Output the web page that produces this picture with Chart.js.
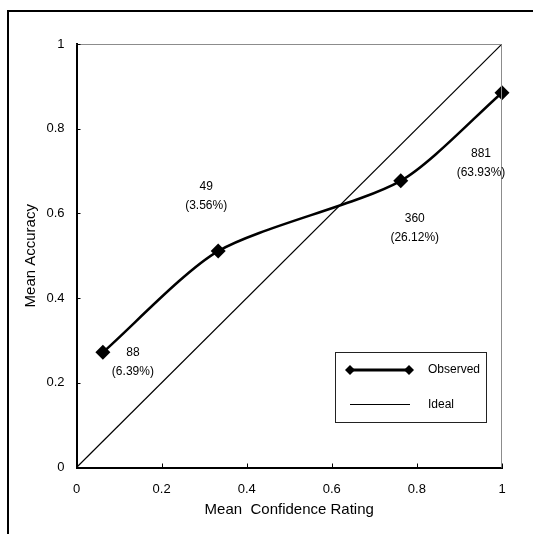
<!DOCTYPE html>
<html>
<head>
<meta charset="utf-8">
<script src="https://cdn.jsdelivr.net/npm/chart.js@4.4.1/dist/chart.umd.min.js"></script>
<style>
  html, body { margin: 0; padding: 0; background: #fff; }
  canvas { display: block; }
</style>
</head>
<body>
<canvas id="calib" width="533" height="534"></canvas>
<script>
// calibration curve: mean confidence vs mean accuracy
const confidence = [0.062, 0.333, 0.762, 1.0];
const accuracy = [0.272, 0.511, 0.677, 0.885];
const counts = ["88", "49", "360", "881"];
const shares = ["(6.39%)", "(3.56%)", "(26.12%)", "(63.93%)"];
const idealX = [0, 1];
const idealY = [0, 1];
const tickValues = [0, 0.2, 0.4, 0.6, 0.8, 1];
const tickLabels = ["0", "0.2", "0.4", "0.6", "0.8", "1"];

// where each count label sits relative to its point (px)
const labelOffsets = [[30, 0], [-12, -64], [14, 38], [-21, 61]];

const FONT = "'Liberation Sans', Arial, sans-serif";
Chart.defaults.font.family = FONT;
Chart.defaults.color = "#000";

const toPoints = (xs, ys) => xs.map((x, i) => ({ x: x, y: ys[i] }));
const useTicks = s => { s.ticks = tickValues.map(v => ({ value: v })); };
const tickText = (v, i) => tickLabels[i];

// frame, plot border, inner tick marks, count labels, legend box
const decorations = {
  id: "decorations",
  beforeDraw(chart) {
    const ctx = chart.ctx;
    ctx.save();
    ctx.fillStyle = "#000";
    ctx.fillRect(7, 10, 533, 2);
    ctx.fillRect(7, 10, 2, 534);
    ctx.restore();
  },
  afterDraw(chart) {
    const ctx = chart.ctx;
    const { left, right, top, bottom } = chart.chartArea;
    const xs = chart.scales.x, ys = chart.scales.y;
    ctx.save();

    // top and right edges of the plot
    ctx.strokeStyle = "#8c8c8c";
    ctx.lineWidth = 1;
    ctx.beginPath();
    ctx.moveTo(left, top + 0.5);
    ctx.lineTo(right - 0.5, top + 0.5);
    ctx.lineTo(right - 0.5, bottom);
    ctx.stroke();

    // tick marks pointing inwards
    ctx.strokeStyle = "#000";
    ctx.lineWidth = 1;
    ctx.beginPath();
    tickValues.forEach(v => {
      const px = Math.round(xs.getPixelForValue(v)) + 0.5;
      ctx.moveTo(px, bottom);
      ctx.lineTo(px, bottom - 4);
      const py = Math.round(ys.getPixelForValue(v)) + 0.5;
      ctx.moveTo(left, py);
      ctx.lineTo(left + 4, py);
    });
    ctx.stroke();

    // count / share labels
    ctx.font = "12px " + FONT;
    ctx.fillStyle = "#000";
    ctx.textAlign = "center";
    ctx.textBaseline = "middle";
    confidence.forEach((c, i) => {
      const px = xs.getPixelForValue(c) + labelOffsets[i][0];
      const py = ys.getPixelForValue(accuracy[i]) + labelOffsets[i][1];
      ctx.fillText(counts[i], px, py);
      ctx.fillText(shares[i], px, py + 19);
    });

    // legend
    const bx = 335.5, by = 352.5, bw = 151, bh = 70;
    ctx.strokeStyle = "#222";
    ctx.lineWidth = 1;
    ctx.strokeRect(bx, by, bw, bh);
    const rows = [370, 404.5];
    ctx.textAlign = "left";
    chart.data.datasets.forEach((ds, i) => {
      const y = rows[i];
      ctx.strokeStyle = ds.borderColor;
      ctx.lineWidth = Math.max(1, Math.round(ds.borderWidth));
      ctx.beginPath();
      ctx.moveTo(350, y);
      ctx.lineTo(410, y);
      ctx.stroke();
      if (ds.pointRadius > 0) {
        const opts = { pointStyle: "rectRot", radius: 5, borderWidth: 0 };
        ctx.fillStyle = ds.pointBackgroundColor;
        Chart.helpers.drawPoint(ctx, opts, 350, y);
        Chart.helpers.drawPoint(ctx, opts, 409, y);
      }
      ctx.fillStyle = "#000";
      ctx.fillText(ds.label, 428, Math.round(y));
    });
    ctx.restore();
  }
};

new Chart(document.getElementById("calib"), {
  type: "scatter",
  data: {
    datasets: [
      {
        label: "Observed",
        data: toPoints(confidence, accuracy),
        showLine: true,
        tension: 0.25,
        borderColor: "#000",
        borderWidth: 2.5,
        pointStyle: "rectRot",
        pointRadius: 7.5,
        pointBackgroundColor: "#000",
        pointBorderWidth: 0,
        clip: false
      },
      {
        label: "Ideal",
        data: toPoints(idealX, idealY),
        showLine: true,
        tension: 0,
        borderColor: "#000",
        borderWidth: 1.2,
        pointRadius: 0,
        pointBackgroundColor: "#000"
      }
    ]
  },
  options: {
    responsive: false,
    animation: false,
    events: [],
    layout: { padding: { top: 44, right: 31, left: 0, bottom: 0 } },
    plugins: { legend: { display: false }, tooltip: { enabled: false } },
    scales: {
      x: {
        type: "linear",
        min: 0,
        max: 1,
        afterBuildTicks: useTicks,
        afterFit: s => { s.height = 66.5; },
        grid: { drawOnChartArea: false, drawTicks: false },
        border: { color: "#000", width: 2 },
        ticks: { padding: 14, font: { size: 13 }, maxRotation: 0, callback: tickText },
        title: {
          display: true,
          text: "Mean  Confidence Rating",
          font: { size: 15 },
          padding: { top: 0, bottom: 15 }
        }
      },
      y: {
        type: "linear",
        min: 0,
        max: 1,
        afterBuildTicks: useTicks,
        afterFit: s => { s.width = 76.5; },
        grid: { drawOnChartArea: false, drawTicks: false },
        border: { color: "#000", width: 2 },
        ticks: { padding: 12, font: { size: 13 }, callback: tickText },
        title: {
          display: true,
          text: "Mean Accuracy",
          font: { size: 15 },
          padding: { top: 22, bottom: 0 }
        }
      }
    }
  },
  plugins: [decorations]
});
</script>
</body>
</html>
